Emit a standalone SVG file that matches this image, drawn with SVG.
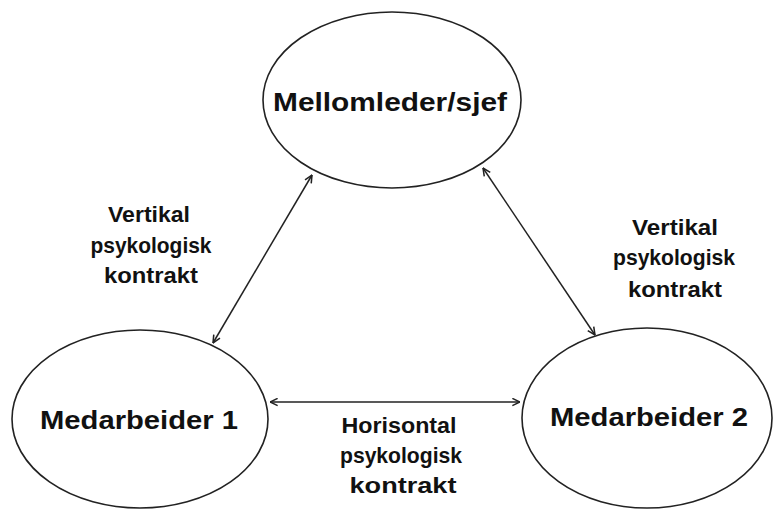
<svg xmlns="http://www.w3.org/2000/svg" width="774" height="510" viewBox="0 0 774 510">
<style>
.node ellipse{fill:#fff;stroke:#222;stroke-width:1.6}
.title{font-family:"Liberation Sans",Arial,sans-serif;font-weight:bold;font-size:26px;fill:#111;text-anchor:middle}
.lbl{font-family:"Liberation Sans",Arial,sans-serif;font-weight:bold;font-size:22.5px;fill:#111;text-anchor:middle}
.conn line{stroke:#222;stroke-width:1.5;fill:none}
</style>
<defs>
<marker id="ah" viewBox="0 0 10 10" refX="9.5" refY="5" markerWidth="9" markerHeight="9" markerUnits="userSpaceOnUse" orient="auto-start-reverse">
<path d="M1,1 L9.5,5 L1,9" fill="none" stroke="#222" stroke-width="1.7"/>
</marker>
</defs>
<rect width="774" height="510" fill="#fff"/>
<g id="node-mellomleder" class="node">
<ellipse cx="392" cy="100" rx="129" ry="88"/>
<text class="title" x="390" y="111" textLength="234" lengthAdjust="spacingAndGlyphs">Mellomleder/sjef</text>
</g>
<g id="node-medarbeider1" class="node">
<ellipse cx="140" cy="419" rx="128" ry="89"/>
<text class="title" x="139" y="429" font-size="27" textLength="198" lengthAdjust="spacingAndGlyphs">Medarbeider 1</text>
</g>
<g id="node-medarbeider2" class="node">
<ellipse cx="647" cy="418" rx="125" ry="90"/>
<text class="title" x="649" y="426" font-size="27" textLength="198" lengthAdjust="spacingAndGlyphs">Medarbeider 2</text>
</g>
<g id="connectors" class="conn">
<line x1="213" y1="343" x2="312" y2="175" marker-start="url(#ah)" marker-end="url(#ah)"/>
<line x1="483" y1="168" x2="595" y2="335" marker-start="url(#ah)" marker-end="url(#ah)"/>
<line x1="270" y1="402" x2="520" y2="402" marker-start="url(#ah)" marker-end="url(#ah)"/>
</g>
<g id="label-left">
<text class="lbl" x="149" y="222" textLength="82" lengthAdjust="spacingAndGlyphs">Vertikal</text>
<text class="lbl" x="151" y="253" textLength="121" lengthAdjust="spacingAndGlyphs">psykologisk</text>
<text class="lbl" x="151" y="283" textLength="94" lengthAdjust="spacingAndGlyphs">kontrakt</text>
</g>
<g id="label-right">
<text class="lbl" x="675" y="235" textLength="86" lengthAdjust="spacingAndGlyphs">Vertikal</text>
<text class="lbl" x="674" y="265" textLength="122" lengthAdjust="spacingAndGlyphs">psykologisk</text>
<text class="lbl" x="675" y="297" textLength="94" lengthAdjust="spacingAndGlyphs">kontrakt</text>
</g>
<g id="label-bottom">
<text class="lbl" x="399" y="433" textLength="115" lengthAdjust="spacingAndGlyphs">Horisontal</text>
<text class="lbl" x="401" y="463" textLength="122" lengthAdjust="spacingAndGlyphs">psykologisk</text>
<text class="lbl" x="403" y="493" textLength="107" lengthAdjust="spacingAndGlyphs">kontrakt</text>
</g>
</svg>
